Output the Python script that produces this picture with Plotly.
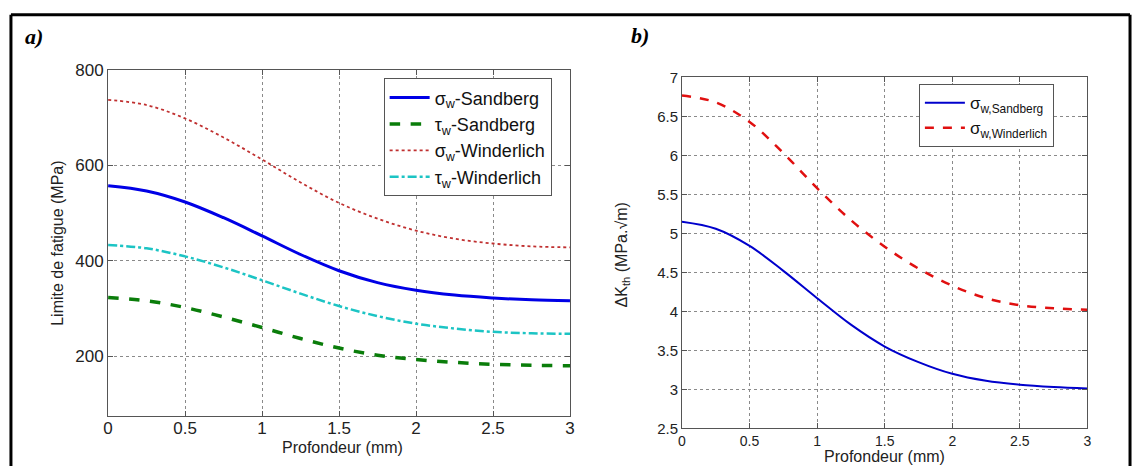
import plotly.graph_objects as go

W, H = 1138, 474

depth = [0, 0.25, 0.5, 0.75, 1.0, 1.25, 1.5, 1.75, 2.0, 2.25, 2.5, 2.75, 3.0]

sigma_sandberg = [557, 546, 523, 490, 452, 413, 379, 354, 338, 328, 322, 318, 316]
tau_sandberg = [323, 316, 302, 282, 260, 237, 217, 202, 193, 187, 183, 181, 180]
sigma_winderlich = [737, 726, 698, 658, 612, 564, 521, 488, 463, 446, 436, 430, 428]
tau_winderlich = [433, 426, 409, 386, 359, 331, 305, 284, 268, 258, 251, 248, 247]

dk_sandberg = [5.15, 5.06, 4.84, 4.52, 4.17, 3.83, 3.55, 3.35, 3.20, 3.11, 3.06, 3.03, 3.01]
dk_winderlich = [6.77, 6.68, 6.43, 6.03, 5.58, 5.17, 4.83, 4.55, 4.33, 4.17, 4.08, 4.04, 4.02]

xticks = [0, 0.5, 1, 1.5, 2, 2.5, 3]
xticklabels = ["0", "0.5", "1", "1.5", "2", "2.5", "3"]
yticks_a = [200, 400, 600, 800]
yticks_b = [2.5, 3, 3.5, 4, 4.5, 5, 5.5, 6, 6.5, 7]
yticklabels_b = ["2.5", "3", "3.5", "4", "4.5", "5", "5.5", "6", "6.5", "7"]


def px_x(p):
    return p / W


def px_y(p):
    return 1 - p / H


fig = go.Figure()

fig.add_trace(go.Scatter(x=depth, y=sigma_sandberg, mode="lines", name="σ<sub>w</sub>-Sandberg",
                         line=dict(color="#0000e6", width=3, shape="spline"), xaxis="x", yaxis="y", legend="legend"))
fig.add_trace(go.Scatter(x=depth, y=tau_sandberg, mode="lines", name="τ<sub>w</sub>-Sandberg",
                         line=dict(color="#0a7d0a", width=3.5, dash="dash", shape="spline"), xaxis="x", yaxis="y", legend="legend"))
fig.add_trace(go.Scatter(x=depth, y=sigma_winderlich, mode="lines", name="σ<sub>w</sub>-Winderlich",
                         line=dict(color="#c03030", width=1.8, dash="dot", shape="spline"), xaxis="x", yaxis="y", legend="legend"))
fig.add_trace(go.Scatter(x=depth, y=tau_winderlich, mode="lines", name="τ<sub>w</sub>-Winderlich",
                         line=dict(color="#1cc4c4", width=2.5, dash="dashdot", shape="spline"), xaxis="x", yaxis="y", legend="legend"))

fig.add_trace(go.Scatter(x=depth, y=dk_sandberg, mode="lines", name="σ<sub>w,Sandberg</sub>",
                         line=dict(color="#0000cc", width=2, shape="spline"), xaxis="x2", yaxis="y2", legend="legend2"))
fig.add_trace(go.Scatter(x=depth, y=dk_winderlich, mode="lines", name="σ<sub>w,Winderlich</sub>",
                         line=dict(color="#e01010", width=2.5, dash="dash", shape="spline"), xaxis="x2", yaxis="y2", legend="legend2"))

axis_common = dict(showline=True, linecolor="#555", linewidth=1, mirror="ticks", ticks="inside",
                   ticklen=5, tickcolor="#555", showgrid=True, gridcolor="#8a8a8a", griddash="dot",
                   gridwidth=1, zeroline=False)

font_a = dict(family="Liberation Sans, Arial", size=17, color="#222")
font_b = dict(family="Liberation Sans, Arial", size=15, color="#222")
font_bx = dict(family="Liberation Sans, Arial", size=14, color="#222")

fig.update_layout(
    width=W, height=H,
    margin=dict(l=0, r=0, t=0, b=0),
    paper_bgcolor="white", plot_bgcolor="white",
    xaxis=dict(domain=[px_x(104), px_x(570)], range=[0, 3], tickvals=xticks, ticktext=xticklabels,
               anchor="y", tickfont=font_a, ticklabelstandoff=-3, **axis_common),
    yaxis=dict(domain=[px_y(422), px_y(63)], range=[75, 800], tickvals=yticks_a,
               anchor="x", tickfont=font_a, **axis_common),
    xaxis2=dict(domain=[px_x(683), px_x(1092)], range=[0, 3], tickvals=xticks, ticktext=xticklabels,
                anchor="y2", tickfont=font_bx, **axis_common),
    yaxis2=dict(domain=[px_y(435), px_y(71)], range=[2.5, 7], tickvals=yticks_b, ticktext=yticklabels_b,
                anchor="x2", tickfont=font_b, **axis_common),
    legend=dict(x=px_x(382), y=px_y(72), xanchor="left", yanchor="top", bgcolor="white",
                bordercolor="#555", borderwidth=1, font=dict(family="Liberation Sans, Arial", size=18, color="#111"),
                tracegroupgap=0, itemwidth=40),
    legend2=dict(x=px_x(922), y=px_y(78), xanchor="left", yanchor="top", bgcolor="white",
                 bordercolor="#555", borderwidth=1, font=dict(family="Liberation Sans, Arial", size=17, color="#111"),
                 tracegroupgap=0, itemwidth=40),
    showlegend=True,
)

annotations = [
    dict(text="<b><i>a)</i></b>", x=px_x(18), y=px_y(29), xanchor="left", yanchor="middle",
         font=dict(family="Liberation Serif, Times New Roman", size=22, color="black")),
    dict(text="<b><i>b)</i></b>", x=px_x(630), y=px_y(27), xanchor="left", yanchor="middle",
         font=dict(family="Liberation Serif, Times New Roman", size=22, color="black")),
    dict(text="Profondeur (mm)", x=px_x(340), y=px_y(455), xanchor="center", yanchor="middle",
         font=dict(family="Liberation Sans, Arial", size=16, color="#222")),
    dict(text="Limite de fatigue (MPa)", x=px_x(53), y=px_y(243), xanchor="center", yanchor="middle",
         textangle=-90, font=dict(family="Liberation Sans, Arial", size=16, color="#222")),
    dict(text="Profondeur (mm)", x=px_x(887), y=px_y(464), xanchor="center", yanchor="middle",
         font=dict(family="Liberation Sans, Arial", size=16, color="#222")),
    dict(text="ΔK<sub>th</sub> (MPa.√m)", x=px_x(623), y=px_y(255), xanchor="center", yanchor="middle",
         textangle=-90, font=dict(family="Liberation Sans, Arial", size=16, color="#222")),
]
for a in annotations:
    a.update(xref="paper", yref="paper", showarrow=False)
fig.update_layout(annotations=annotations)

fig.update_layout(shapes=[
    dict(type="line", xref="paper", yref="paper", x0=px_x(6), x1=px_x(1135), y0=px_y(6), y1=px_y(6),
         line=dict(color="black", width=3)),
    dict(type="line", xref="paper", yref="paper", x0=px_x(6), x1=px_x(6), y0=px_y(6), y1=px_y(474),
         line=dict(color="black", width=3)),
    dict(type="line", xref="paper", yref="paper", x0=px_x(1135), x1=px_x(1135), y0=px_y(6), y1=px_y(474),
         line=dict(color="black", width=3)),
])

fig.write_html("out.html", config={"displayModeBar": False},
               post_script="document.body.style.margin='0px';document.body.style.overflow='hidden';")
